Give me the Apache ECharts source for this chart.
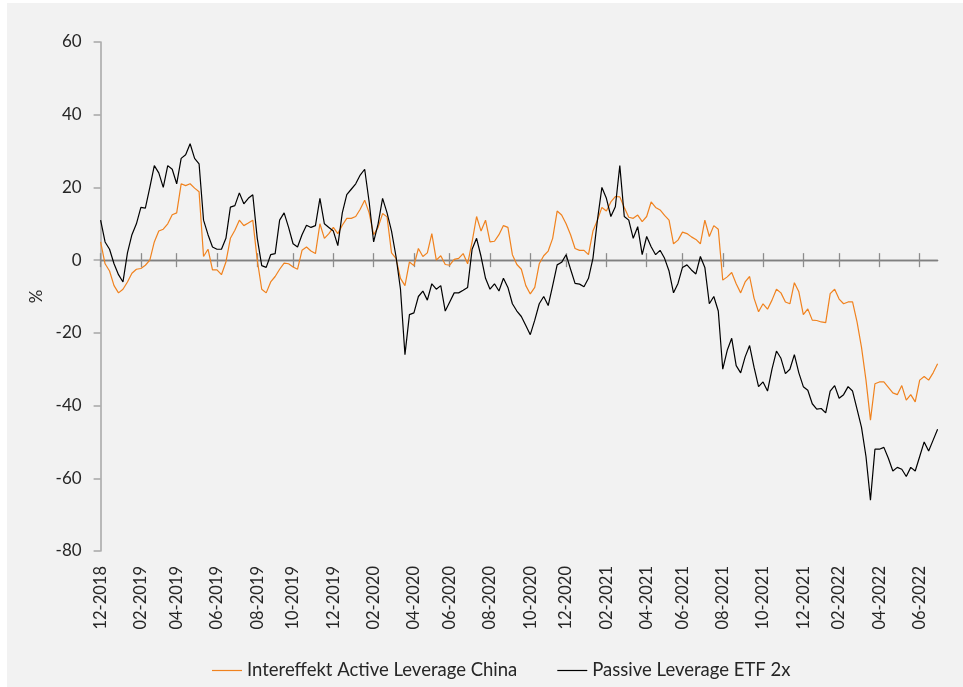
<!DOCTYPE html>
<html>
<head>
<meta charset="utf-8">
<script src="https://cdn.jsdelivr.net/npm/echarts@6/dist/echarts.min.js"></script>
<style>
  html, body { margin: 0; padding: 0; background: #ffffff; }
  #chart { position: absolute; left: 7px; top: 3px; width: 956px; height: 684px; background: #f2f2f2; }
</style>
</head>
<body>
<div id="chart"></div>
<script>
// weekly values, first point 2018-12-01, one point per week
var active = [
  5, -1, -3, -7, -9, -8, -6, -3.6, -2.5, -2.3,
  -1.4, 0, 5, 8, 8.5, 10, 12.5, 13, 21, 20.5,
  21, 19.8, 18.8, 1, 3, -2.7, -2.7, -4, -0.5, 6,
  8.2, 11, 9.5, 10.2, 11, 0, -8, -9, -6, -4.5,
  -2.5, -0.8, -1, -1.9, -2.5, 2.7, 3.6, 2.5, 1.8, 10,
  6, 7.3, 9, 7.3, 9.6, 11.5, 11.5, 12, 14, 16.5,
  13, 7, 9, 12.8, 11.9, 2, 0.5, -5, -7, -0.5,
  -1.5, 3.2, 1, 2, 7.3, 0, 1.2, -1.2, -1.4, 0.2,
  0.5, 1.8, -1, 5, 12, 8, 11, 5, 5.2, 7,
  9.5, 9, 1.5, -1.2, -2.5, -7, -9.3, -7.5, -1, 1.2,
  2.5, 6, 13.5, 12.4, 10, 7, 3.2, 2.7, 2.7, 1.5,
  8, 11, 14.5, 13.5, 16, 17.5, 17.4, 14.5, 11.8, 11.5,
  12.4, 10.6, 12, 16, 14.5, 13.8, 12.3, 11, 4.5, 5.5,
  7.7, 7.3, 6.4, 5.7, 4.5, 11, 6.5, 9.5, 8.5, -5.5,
  -4.6, -3.4, -6.5, -9, -6, -4.5, -10.5, -14.2, -12, -13.5,
  -11, -8, -9, -11.5, -12, -6.2, -8.7, -15, -13.4, -16.5,
  -16.6, -17, -17.2, -9.2, -8, -10.7, -12, -11.5, -11.5, -17,
  -24, -33, -44, -34, -33.5, -33.5, -35, -36.5, -37, -34.5,
  -38.5, -37, -39, -33, -32, -33, -31, -28.5
];
var passive = [
  11, 5, 3, -1, -4, -6, 2, 7, 10, 14.5,
  14.3, 20, 26, 24, 20, 26, 25, 21, 28, 29,
  32, 28, 26.5, 11, 7, 3.6, 3, 3, 6, 14.6,
  15, 18.5, 15.5, 17, 18, 6, -1.5, -2, 1.5, 1.8,
  11, 13, 9, 4.5, 3.6, 7, 9.6, 9, 9.5, 17,
  10, 9, 8, 4, 13, 18, 19.5, 21, 23.4, 25,
  16, 5, 10, 17, 13, 8, 1, -8, -26, -15,
  -14.5, -10, -8.5, -11, -6.5, -8, -7, -14, -11.5, -9,
  -9, -8.3, -7.5, 3, 6, 1, -5, -8, -6.5, -8.5,
  -5, -7.5, -12, -14, -15.5, -18, -20.5, -16.5, -12, -10,
  -12.5, -7, -1.3, -0.6, 1.5, -2.5, -6.4, -6.6, -7.3, -5,
  0.5, 11, 20, 17, 12, 14.7, 26, 12, 11, 6,
  9.2, 1.5, 6.5, 3.7, 1.5, 2.7, 0.5, -3, -9, -6.4,
  -2, -1.3, -2.7, -3.8, 1, -2, -12, -10, -14, -30,
  -24.8, -21.5, -29, -31, -26.6, -23.5, -29.5, -34.8, -33.5, -36,
  -30, -25, -27, -31.2, -30, -26, -31, -34.8, -35.8, -39.5,
  -41, -40.8, -42, -36, -34.5, -38, -37, -34.8, -36, -41,
  -46, -54, -66, -52, -52, -51.5, -54.5, -58, -57, -57.5,
  -59.5, -57, -58, -54, -50, -52.5, -49.5, -46.5
];
var tickLabels = [
  '12-2018', '02-2019', '04-2019', '06-2019', '08-2019', '10-2019', '12-2019',
  '02-2020', '04-2020', '06-2020', '08-2020', '10-2020', '12-2020',
  '02-2021', '04-2021', '06-2021', '08-2021', '10-2021', '12-2021',
  '02-2022', '04-2022', '06-2022'
];

var DAY = 864e5;
var start = Date.UTC(2018, 11, 1);
var dates = [];
for (var i = 0; i < passive.length; i++) {
  dates.push(new Date(start + i * 7 * DAY).toISOString().slice(0, 10));
}

// the week that holds the 1st of an even month gets a tick and a label
function isTick(value) {
  var d = new Date(Date.parse(value) + 3 * DAY);
  return d.getUTCDate() <= 7 && d.getUTCMonth() % 2 === 1;
}
var labelAt = {};
var k = 0;
dates.forEach(function (d, idx) {
  if (isTick(d)) labelAt[idx] = tickLabels[k++];
});
function tickFn(idx, value) { return isTick(value); }

var font = 'Lato';
var txt = '#262626';
var zeroLine = { color: '#808080', width: 1.3 };
var tickLine = { color: '#8c8c8c', width: 1.3 };

var chart = echarts.init(document.getElementById('chart'));
chart.setOption({
  animation: false,
  backgroundColor: '#f2f2f2',
  textStyle: { fontFamily: font },
  grid: { left: 93.6, right: 25.4, top: 39, bottom: 136, containLabel: false, outerBoundsMode: 'none' },
  legend: {
    left: 200,
    top: 653,
    icon: 'rect',
    itemWidth: 30,
    itemHeight: 1.2,
    itemGap: 40,
    textStyle: { fontFamily: font, fontSize: 18.5, color: txt },
    data: ['Intereffekt Active Leverage China', 'Passive Leverage ETF 2x']
  },
  xAxis: [
    {
      // date labels along the bottom edge
      type: 'category',
      data: dates,
      boundaryGap: false,
      position: 'bottom',
      axisLine: { show: false, onZero: false },
      axisTick: { show: false },
      axisLabel: {
        interval: tickFn,
        rotate: 90,
        margin: 15,
        fontFamily: font,
        fontSize: 16.5,
        color: txt,
        formatter: function (v, idx) { return labelAt[idx] || ''; }
      },
      splitLine: { show: false }
    },
    {
      // zero line, ticks pointing up
      type: 'category',
      data: dates,
      boundaryGap: false,
      position: 'top',
      axisLine: { onZero: true, onZeroAxisIndex: 0, lineStyle: zeroLine },
      axisTick: { interval: tickFn, length: 7, lineStyle: tickLine },
      axisLabel: { show: false },
      splitLine: { show: false }
    },
    {
      // zero line, ticks pointing down
      type: 'category',
      data: dates,
      boundaryGap: false,
      position: 'bottom',
      axisLine: { onZero: true, onZeroAxisIndex: 0, lineStyle: zeroLine },
      axisTick: { interval: tickFn, length: 7, lineStyle: tickLine },
      axisLabel: { show: false },
      splitLine: { show: false }
    }
  ],
  yAxis: {
    type: 'value',
    min: -80,
    max: 60,
    interval: 20,
    name: '%',
    nameLocation: 'middle',
    nameGap: 51,
    nameTextStyle: { fontFamily: font, fontSize: 17, color: txt },
    axisLine: { show: true, lineStyle: { color: '#a6a6a6', width: 1.5 } },
    axisTick: { show: true, length: 7, lineStyle: { color: '#a6a6a6', width: 1.5 } },
    axisLabel: { margin: 19, fontFamily: font, fontSize: 17, color: txt },
    splitLine: { show: false }
  },
  series: [
    {
      name: 'Intereffekt Active Leverage China',
      type: 'line',
      data: active,
      showSymbol: false,
      symbol: 'none',
      color: '#f0821e',
      lineStyle: { width: 1.2, color: '#f0821e' }
    },
    {
      name: 'Passive Leverage ETF 2x',
      type: 'line',
      data: passive,
      showSymbol: false,
      symbol: 'none',
      color: '#000000',
      lineStyle: { width: 1.2, color: '#000000' }
    }
  ]
});
</script>
</body>
</html>
